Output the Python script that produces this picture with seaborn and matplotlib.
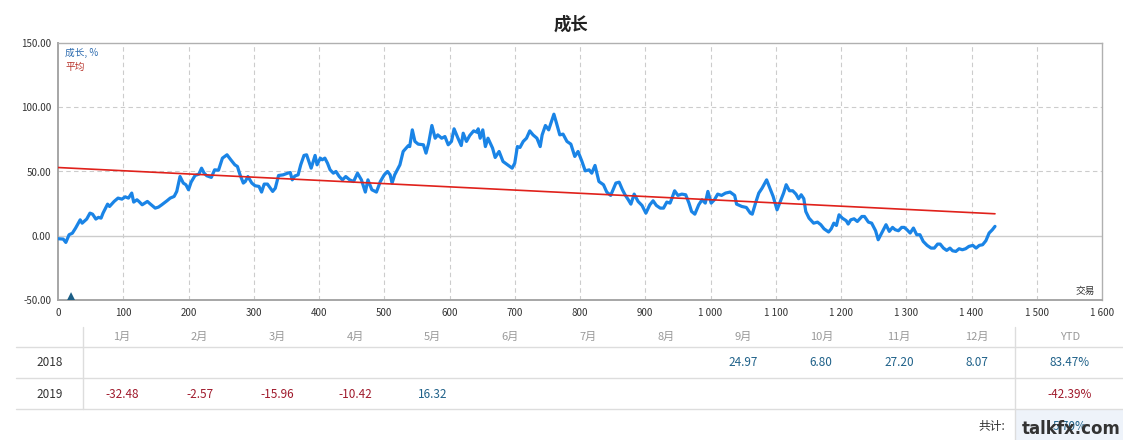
import matplotlib
matplotlib.use("Agg")
import matplotlib.pyplot as plt
from matplotlib.lines import Line2D
from matplotlib.patches import Rectangle
import seaborn as sns
import pandas as pd

# ---------------- data ----------------
trade_x = [0, 8, 12, 17, 22, 27, 34, 37, 44, 49, 53, 58, 62, 66, 69, 76, 79, 86, 92, 98,
           103, 108, 113, 116, 121, 124, 129, 133, 137, 141, 149, 154, 159, 167, 172, 178, 182, 187, 192, 196,
           200, 204, 210, 216, 220, 224, 228, 235, 240, 246, 252, 259, 265, 271, 275, 279, 284, 287, 291, 297,
           302, 308, 312, 316, 321, 329, 333, 338, 345, 352, 356, 359, 363, 368, 372, 377, 381, 388, 394, 397,
           402, 405, 409, 413, 417, 422, 426, 431, 436, 441, 447, 453, 459, 465, 471, 475, 481, 488, 494, 500,
           505, 509, 512, 516, 524, 529, 537, 539, 543, 547, 552, 560, 564, 568, 573, 578, 582, 588, 593, 598,
           603, 607, 613, 618, 621, 626, 631, 637, 642, 644, 647, 651, 655, 659, 666, 670, 676, 682, 689, 696,
           700, 704, 708, 713, 718, 723, 728, 734, 739, 742, 747, 752, 760, 764, 769, 774, 780, 786, 792, 797,
           803, 808, 814, 818, 823, 829, 836, 841, 847, 855, 860, 865, 869, 874, 878, 883, 889, 895, 901, 907,
           912, 917, 923, 928, 933, 938, 941, 945, 950, 956, 962, 967, 971, 976, 982, 987, 992, 996, 1001, 1006,
           1011, 1017, 1023, 1030, 1037, 1040, 1048, 1055, 1061, 1064, 1069, 1074, 1079, 1086, 1091, 1096, 1102, 1107, 1112, 1116,
           1121, 1126, 1131, 1135, 1139, 1143, 1146, 1151, 1158, 1164, 1169, 1174, 1181, 1185, 1189, 1193, 1197, 1202, 1208, 1211,
           1215, 1220, 1225, 1232, 1236, 1242, 1247, 1253, 1257, 1261, 1269, 1274, 1279, 1283, 1288, 1293, 1297, 1301, 1306, 1311,
           1316, 1321, 1326, 1332, 1338, 1343, 1348, 1352, 1357, 1362, 1367, 1371, 1376, 1381, 1386, 1391, 1396, 1402, 1407, 1412,
           1417, 1422, 1427, 1432, 1436]
growth = [-2.3, -2.6, -5.2, 0.8, 2.0, 6.0, 12.4, 9.8, 13.0, 17.6, 16.8, 13.0, 14.3, 13.7, 17.6, 24.6, 22.8, 26.7, 29.3, 28.5,
          30.3, 29.3, 33.2, 26.2, 28.0, 26.7, 24.1, 25.4, 26.7, 24.9, 21.5, 22.3, 24.1, 27.2, 29.3, 30.6, 34.5, 46.1, 41.0, 39.7,
          35.8, 41.7, 46.9, 48.0, 52.6, 48.7, 46.7, 45.4, 51.3, 51.0, 60.4, 63.0, 59.0, 55.2, 53.9, 47.4, 41.0, 42.2, 46.1, 41.0,
          38.9, 38.4, 34.0, 40.2, 40.2, 34.5, 37.0, 46.9, 47.4, 48.7, 49.2, 43.5, 46.5, 47.4, 55.2, 62.5, 63.0, 52.6, 62.5, 55.2,
          60.4, 59.1, 60.4, 56.5, 51.3, 48.7, 50.0, 46.1, 43.5, 46.1, 43.5, 42.2, 48.7, 43.5, 34.0, 43.5, 35.8, 34.0, 42.2, 47.4,
          50.0, 47.4, 41.0, 47.4, 55.2, 65.6, 70.2, 69.4, 82.4, 73.4, 71.3, 70.8, 64.3, 72.0, 85.8, 75.9, 78.5, 75.9, 77.2, 70.8,
          73.4, 83.2, 75.9, 70.2, 79.8, 73.4, 78.0, 81.6, 80.6, 83.2, 75.9, 82.4, 69.4, 75.9, 68.2, 60.9, 65.6, 57.8, 55.2, 52.6,
          56.5, 69.4, 68.7, 73.4, 75.9, 81.6, 78.5, 75.9, 69.4, 78.5, 85.8, 82.4, 94.6, 87.6, 78.5, 79.1, 73.4, 71.3, 61.7, 65.6,
          57.8, 50.5, 51.3, 48.7, 54.7, 42.2, 39.7, 34.0, 31.4, 41.0, 41.7, 35.8, 31.9, 28.0, 24.6, 32.4, 26.7, 23.6, 17.6, 24.1,
          27.2, 23.6, 21.5, 21.5, 26.2, 25.4, 29.3, 35.0, 31.4, 32.4, 31.9, 25.4, 18.9, 16.8, 24.1, 28.0, 25.4, 34.5, 25.4, 28.0,
          32.4, 31.4, 33.2, 34.0, 31.4, 24.6, 22.8, 22.0, 17.6, 16.8, 25.4, 33.2, 37.0, 43.5, 37.0, 30.6, 20.2, 26.7, 33.2, 39.7,
          35.0, 35.0, 32.4, 28.8, 31.9, 28.8, 18.9, 13.7, 9.8, 10.6, 8.6, 5.4, 2.9, 5.4, 9.8, 8.0, 16.3, 13.7, 11.7, 9.1,
          12.4, 13.2, 11.1, 15.0, 15.0, 10.6, 9.8, 3.9, -3.1, 0.8, 8.6, 3.4, 6.5, 4.7, 3.9, 6.5, 6.5, 4.7, 2.1, 6.0,
          0.8, 0.8, -4.4, -7.5, -9.6, -9.6, -6.5, -6.5, -9.6, -11.4, -9.6, -11.7, -12.2, -10.1, -10.9, -10.1, -8.3, -7.5, -9.6, -7.5,
          -7.0, -3.9, 2.1, 4.7, 7.3]

avg_x = [0, 1436]
avg_y = [53.1, 17.1]

marker_x = [20]
marker_y = [-47.5]

x_ticks = [0, 100, 200, 300, 400, 500, 600, 700, 800, 900, 1000, 1100, 1200, 1300, 1400, 1500, 1600]
x_tick_labels = ["0", "100", "200", "300", "400", "500", "600", "700", "800", "900",
                 "1 000", "1 100", "1 200", "1 300", "1 400", "1 500", "1 600"]
y_ticks = [-50, 0, 50, 100, 150]
y_tick_labels = ["-50.00", "0.00", "50.00", "100.00", "150.00"]

months = ["1月", "2月", "3月", "4月", "5月", "6月", "7月", "8月", "9月", "10月", "11月", "12月"]
years = ["2018", "2019"]
vals_2018 = [None, None, None, None, None, None, None, None, 24.97, 6.80, 27.20, 8.07]
vals_2019 = [-32.48, -2.57, -15.96, -10.42, 16.32, None, None, None, None, None, None, None]
ytd = [83.47, -42.39]
total = 5.70

# ---------------- style ----------------
sns.set_style("white")
plt.rcParams['font.family'] = ['Noto Sans CJK SC', 'DejaVu Sans']

W, H = 1123, 440
fig = plt.figure(figsize=(W / 100, H / 100), dpi=100)
ax = fig.add_axes([58 / W, 1 - 300 / H, 1044 / W, 257 / H])

def fx(px):
    return px / W

def fy(py):
    return 1 - py / H

df = pd.DataFrame({"x": trade_x, "y": growth})
df_avg = pd.DataFrame({"x": avg_x, "y": avg_y})
df_mk = pd.DataFrame({"x": marker_x, "y": marker_y})

sns.lineplot(data=df, x="x", y="y", ax=ax, color="#1a84e6", lw=2.3, zorder=3,
             sort=False, estimator=None)
sns.lineplot(data=df_avg, x="x", y="y", ax=ax, color="#e0211b", lw=1.2, zorder=4,
             estimator=None)
sns.scatterplot(data=df_mk, x="x", y="y", ax=ax, marker="^", s=45, color="#1b5e86",
                edgecolor="none", zorder=5)

ax.set_xlim(0, 1600)
ax.set_ylim(-50, 150)
ax.set_xticks(x_ticks)
ax.set_xticklabels(x_tick_labels)
ax.set_yticks(y_ticks)
ax.set_yticklabels(y_tick_labels)
ax.tick_params(axis="both", length=0, labelsize=7, labelcolor="#333333")
ax.tick_params(axis="x", pad=6)
ax.tick_params(axis="y", pad=5)
ax.set_xlabel("")
ax.set_ylabel("")

for xv in x_ticks[1:-1]:
    ax.axvline(xv, color="#cccccc", lw=0.8, ls=(0, (4, 3)), zorder=1)
for yv in [50, 100]:
    ax.axhline(yv, color="#cccccc", lw=0.8, ls=(0, (4, 3)), zorder=1)
ax.axhline(0, color="#cccccc", lw=1.0, zorder=1)

for side in ["left", "bottom"]:
    ax.spines[side].set_color("#a6a6a6")
    ax.spines[side].set_linewidth(1.4)
for side in ["top", "right"]:
    ax.spines[side].set_color("#b0b0b0")
    ax.spines[side].set_linewidth(1.0)

ax.text(0.007, 0.962, "成长, %", transform=ax.transAxes, fontsize=7, color="#2f6db0",
        ha="left", va="center")
ax.text(0.007, 0.905, "平均", transform=ax.transAxes, fontsize=7, color="#b8332b",
        ha="left", va="center")
ax.text(0.993, 0.035, "交易", transform=ax.transAxes, fontsize=7, color="#333333",
        ha="right", va="center")

fig.text(fx(571), fy(25), "成长", fontsize=12.5, fontweight="bold", color="#222222",
         ha="center", va="center")

# ---------------- table ----------------
grid_c = "#dddddd"
month_x = [122 + 77.7 * i for i in range(12)]
ytd_x = 1070
label_x = 50

fig.add_artist(Rectangle((fx(1015), fy(440)), fx(1123) - fx(1015), fy(409) - fy(440),
                         transform=fig.transFigure, facecolor="#eef3fa", edgecolor="none", zorder=0))
for ly in [347.3, 378.3, 409.3]:
    fig.add_artist(Line2D([fx(16), fx(1123)], [fy(ly), fy(ly)], color=grid_c, lw=1.0,
                          transform=fig.transFigure))
fig.add_artist(Line2D([fx(83), fx(83)], [fy(327), fy(409)], color=grid_c, lw=1.0,
                      transform=fig.transFigure))
fig.add_artist(Line2D([fx(1015), fx(1015)], [fy(327), fy(440)], color=grid_c, lw=1.0,
                      transform=fig.transFigure))

for m, mx in zip(months, month_x):
    fig.text(fx(mx), fy(337), m, fontsize=8, color="#999999", ha="center", va="center")
fig.text(fx(ytd_x), fy(337), "YTD", fontsize=8, color="#999999", ha="center", va="center")

pos_c = "#1f6189"
neg_c = "#a01a2c"
row_y = [362.3, 394]
for yr, vals, yv, ry in zip(years, [vals_2018, vals_2019], ytd, row_y):
    fig.text(fx(label_x), fy(ry), yr, fontsize=8.5, color="#333333", ha="center", va="center")
    for v, mx in zip(vals, month_x):
        if v is None:
            continue
        fig.text(fx(mx), fy(ry), f"{v:.2f}", fontsize=8.5,
                 color=pos_c if v >= 0 else neg_c, ha="center", va="center")
    fig.text(fx(ytd_x), fy(ry), f"{yv:.2f}%", fontsize=8.5,
             color=pos_c if yv >= 0 else neg_c, ha="center", va="center")

fig.text(fx(1005), fy(426), "共计:", fontsize=8.5, color="#333333", ha="right", va="center")
fig.text(fx(ytd_x), fy(426), f"{total:.2f}%", fontsize=8.5, color=pos_c, ha="center", va="center")
fig.text(fx(1071), fy(429), "talkfx.com", fontsize=12, fontweight="bold", color="#333333",
         ha="center", va="center", family=["DejaVu Sans"])

fig.savefig("out.png", dpi=100)
